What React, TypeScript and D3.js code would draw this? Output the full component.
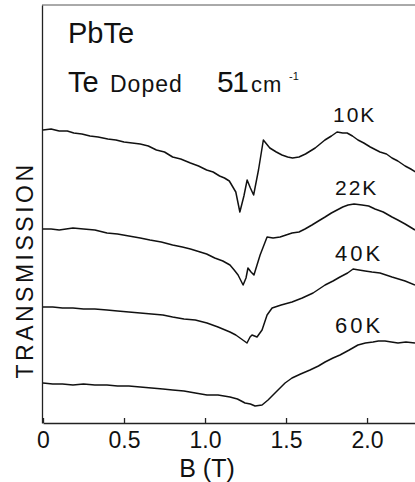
import React, { useEffect, useRef } from 'react';
import * as d3 from 'd3';

// magnetic field B (T) and transmission (arb. units)
const b10K = [0, 0.05, 0.1, 0.15, 0.19, 0.24, 0.29, 0.34, 0.4, 0.45, 0.5, 0.55, 0.6, 0.65, 0.7, 0.75, 0.8, 0.85, 0.91, 0.96, 1.01, 1.05, 1.09, 1.12, 1.15, 1.19, 1.215, 1.24, 1.26, 1.28, 1.3, 1.33, 1.36, 1.4, 1.44, 1.475, 1.51, 1.54, 1.58, 1.62, 1.68, 1.74, 1.78, 1.815, 1.85, 1.877, 1.91, 1.944, 1.98, 2.02, 2.08, 2.12, 2.154, 2.19, 2.235, 2.27, 2.3];
const t10K = [2.93, 2.94, 2.92, 2.92, 2.9, 2.89, 2.87, 2.86, 2.84, 2.83, 2.81, 2.8, 2.79, 2.77, 2.73, 2.71, 2.66, 2.64, 2.6, 2.57, 2.53, 2.51, 2.47, 2.45, 2.42, 2.31, 2.11, 2.27, 2.43, 2.35, 2.28, 2.53, 2.83, 2.75, 2.71, 2.68, 2.66, 2.65, 2.66, 2.69, 2.75, 2.83, 2.87, 2.91, 2.9, 2.9, 2.87, 2.83, 2.8, 2.76, 2.71, 2.69, 2.65, 2.62, 2.57, 2.54, 2.51];

const b22K = [0, 0.05, 0.1, 0.185, 0.25, 0.32, 0.395, 0.46, 0.53, 0.6, 0.66, 0.73, 0.8, 0.86, 0.91, 0.97, 1.01, 1.06, 1.11, 1.154, 1.18, 1.204, 1.235, 1.253, 1.265, 1.284, 1.302, 1.34, 1.383, 1.42, 1.463, 1.5, 1.537, 1.58, 1.617, 1.66, 1.7, 1.741, 1.78, 1.815, 1.85, 1.883, 1.92, 1.969, 2.01, 2.049, 2.1, 2.154, 2.19, 2.235, 2.296];
const t22K = [1.94, 1.94, 1.93, 1.95, 1.94, 1.93, 1.9, 1.89, 1.87, 1.85, 1.83, 1.81, 1.78, 1.76, 1.74, 1.71, 1.69, 1.65, 1.62, 1.58, 1.53, 1.48, 1.38, 1.45, 1.55, 1.51, 1.48, 1.68, 1.86, 1.85, 1.86, 1.88, 1.9, 1.91, 1.94, 1.98, 2.02, 2.06, 2.1, 2.13, 2.16, 2.18, 2.19, 2.18, 2.17, 2.14, 2.11, 2.06, 2.03, 1.99, 1.93];

const b40K = [0, 0.06, 0.12, 0.185, 0.25, 0.32, 0.395, 0.46, 0.53, 0.6, 0.67, 0.74, 0.8, 0.87, 0.94, 1.012, 1.08, 1.154, 1.19, 1.216, 1.259, 1.278, 1.29, 1.321, 1.352, 1.383, 1.414, 1.47, 1.537, 1.6, 1.667, 1.741, 1.79, 1.833, 1.88, 1.914, 1.95, 1.988, 2.03, 2.08, 2.154, 2.235, 2.296];
const t40K = [1.16, 1.16, 1.15, 1.15, 1.14, 1.14, 1.13, 1.12, 1.11, 1.1, 1.09, 1.08, 1.06, 1.04, 1.03, 1.0, 0.96, 0.91, 0.88, 0.85, 0.8, 0.86, 0.88, 0.86, 0.93, 1.08, 1.15, 1.18, 1.21, 1.25, 1.3, 1.38, 1.42, 1.46, 1.5, 1.54, 1.53, 1.52, 1.51, 1.5, 1.46, 1.42, 1.38];

const b60K = [0, 0.06, 0.12, 0.185, 0.25, 0.32, 0.395, 0.46, 0.53, 0.6, 0.67, 0.74, 0.8, 0.87, 0.94, 1.012, 1.08, 1.154, 1.2, 1.247, 1.28, 1.309, 1.352, 1.389, 1.432, 1.494, 1.537, 1.59, 1.648, 1.7, 1.741, 1.79, 1.833, 1.89, 1.944, 1.99, 2.037, 2.07, 2.111, 2.15, 2.191, 2.24, 2.296];
const t60K = [0.4, 0.39, 0.39, 0.38, 0.39, 0.38, 0.38, 0.37, 0.37, 0.36, 0.35, 0.34, 0.33, 0.32, 0.3, 0.28, 0.28, 0.26, 0.24, 0.2, 0.19, 0.17, 0.18, 0.23, 0.3, 0.4, 0.45, 0.49, 0.53, 0.57, 0.61, 0.65, 0.68, 0.73, 0.78, 0.8, 0.81, 0.82, 0.82, 0.81, 0.8, 0.81, 0.8];

const temps = ['10K', '22K', '40K', '60K'];
const fieldTicks = [0, 0.5, 1.0, 1.5, 2.0];

const FONT = '"Liberation Sans", Arial, Helvetica, sans-serif';

export default function App() {
  const svgRef = useRef<SVGSVGElement>(null);

  useEffect(() => {
    const width = 415;
    const height = 482;
    const left = 42;
    const top = 5;
    const bottom = 423;

    const svg = d3.select(svgRef.current).attr('width', width).attr('height', height).html(null);

    svg.append('rect').attr('width', width).attr('height', height).attr('fill', '#fff');

    const x = d3.scaleLinear().domain([0, 2.296]).range([43, width]);
    const y = d3.scaleLinear().domain([0, 4.18]).range([bottom, top]);

    const series = [
      { b: b10K, t: t10K, label: temps[0], lx: 333, ly: 122, size: 21, ls: 2 },
      { b: b22K, t: t22K, label: temps[1], lx: 335, ly: 195, size: 21, ls: 2 },
      { b: b40K, t: t40K, label: temps[2], lx: 335, ly: 261, size: 22, ls: 3 },
      { b: b60K, t: t60K, label: temps[3], lx: 335, ly: 333, size: 22, ls: 3 },
    ];

    // frame: top line + left axis
    svg.append('line')
      .attr('x1', left).attr('x2', width).attr('y1', top).attr('y2', top)
      .attr('stroke', '#555').attr('stroke-width', 1);

    const yAxis = svg.append('g')
      .attr('transform', `translate(${left},0)`)
      .call(d3.axisLeft(y).tickValues([]).tickSizeOuter(0));
    yAxis.select('.domain').attr('stroke', '#222').attr('stroke-width', 1.3);

    const xAxis = svg.append('g')
      .attr('transform', `translate(0,${bottom})`)
      .call(
        d3.axisBottom(x)
          .tickValues(fieldTicks)
          .tickSizeInner(-5)
          .tickSizeOuter(0)
          .tickPadding(9)
          .tickFormat((d) => (+d === 0 ? '0' : d3.format('.1f')(+d))),
      );
    xAxis.select('.domain').attr('stroke', '#222').attr('stroke-width', 1.5);
    xAxis.selectAll('.tick line').attr('stroke', '#222').attr('stroke-width', 1.3);
    xAxis.selectAll('.tick text')
      .attr('fill', '#111')
      .style('font-family', FONT)
      .style('font-size', '23px');

    const trace = d3.line<[number, number]>().x((d) => x(d[0])).y((d) => y(d[1]));

    series.forEach((s) => {
      const pts = s.b.map((bv, i) => [bv, s.t[i]] as [number, number]);
      svg.append('path')
        .datum(pts)
        .attr('fill', 'none')
        .attr('stroke', '#111')
        .attr('stroke-width', 1.5)
        .attr('stroke-linejoin', 'round')
        .attr('d', trace);

      svg.append('text')
        .attr('x', s.lx)
        .attr('y', s.ly)
        .attr('fill', '#111')
        .style('font-family', FONT)
        .style('font-size', `${s.size}px`)
        .style('letter-spacing', `${s.ls}px`)
        .text(s.label);
    });

    // annotations
    const txt = (tx: number, ty: number, size: number, str: string, ls = 0) =>
      svg.append('text')
        .attr('x', tx).attr('y', ty)
        .attr('fill', '#111')
        .style('font-family', FONT)
        .style('font-size', `${size}px`)
        .style('letter-spacing', `${ls}px`)
        .text(str);

    txt(68, 43, 29, 'PbTe');
    txt(68, 92, 29, 'Te');
    txt(110, 92, 23, 'Doped', 1);
    txt(217, 92, 30, '51', -1.5);
    txt(251, 92, 22, 'cm', 1);
    txt(289, 80, 11, '-1');

    svg.append('text')
      .attr('transform', 'translate(33,270) rotate(-90)')
      .attr('text-anchor', 'middle')
      .attr('fill', '#111')
      .style('font-family', FONT)
      .style('font-size', '23px')
      .style('letter-spacing', '3.5px')
      .text('TRANSMISSION');

    svg.append('text')
      .attr('x', 207)
      .attr('y', 477)
      .attr('text-anchor', 'middle')
      .attr('fill', '#111')
      .style('font-family', FONT)
      .style('font-size', '25px')
      .text('B (T)');
  }, []);

  return <svg ref={svgRef} style={{ position: 'absolute', left: 0, top: 0 }} />;
}
